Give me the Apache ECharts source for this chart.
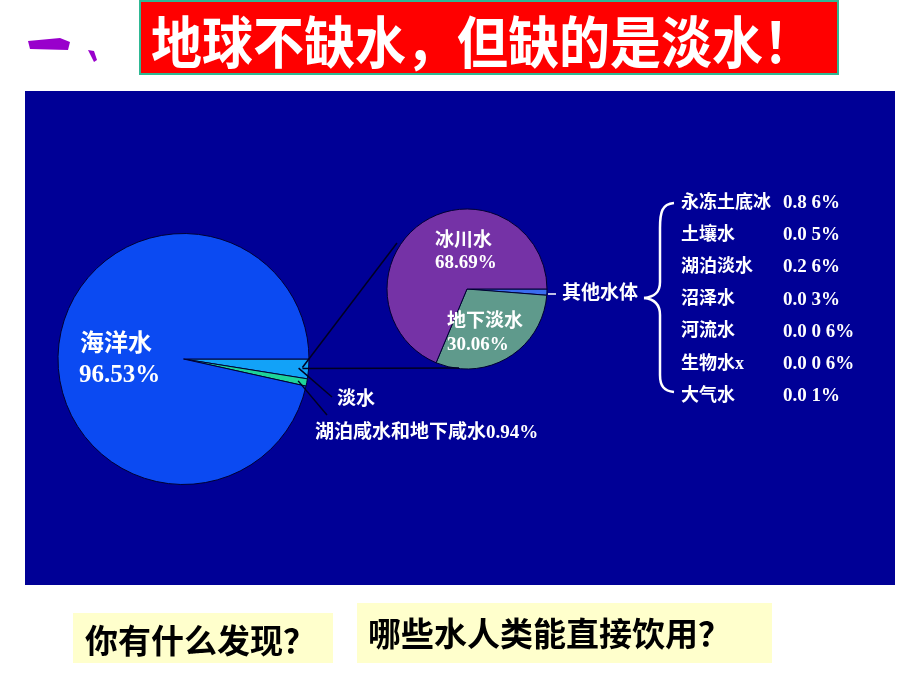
<!DOCTYPE html>
<html><head><meta charset="utf-8">
<script src="https://cdn.jsdelivr.net/npm/echarts@6/dist/echarts.min.js"></script>
<style>html,body{margin:0;padding:0;background:#fff}#c{width:920px;height:690px}</style>
</head><body><div id="c"></div>
<script>
// ---- data ----
const titleText = '地球不缺水，但缺的是淡水！';
const mainCategories = ['淡水', '湖泊咸水和地下咸水', '海洋水'];
const mainValues = [2.53, 0.94, 96.53];
const freshCategories = ['其他水体', '地下淡水', '冰川水'];
const freshValues = [1.25, 30.06, 68.69];
const otherCategories = ['永冻土底冰', '土壤水', '湖泊淡水', '沼泽水', '河流水', '生物水x', '大气水'];
const otherValueLabels = ['0.8 6%', '0.0 5%', '0.2 6%', '0.0 3%', '0.0 0 6%', '0.0 0 6%', '0.0 1%'];
const questions = ['你有什么发现？', '哪些水人类能直接饮用？'];

// ---- layout ----
const bigC = [183.5, 359], bigR = 125.5;
const smallC = [467, 289], smallR = 80;
const serif = '"Liberation Serif","Noto Sans CJK SC",serif';
const cjk = '"Noto Sans CJK SC",sans-serif';

function angleAt(values, idx, frac) {
  const tot = values.reduce((a, b) => a + b, 0);
  let s = 0; for (let i = 0; i < idx; i++) s += values[i];
  return (s + values[idx] * frac) / tot * 2 * Math.PI;
}
function polar(c, r, a) { return [c[0] + r * Math.cos(a), c[1] + r * Math.sin(a)]; }

const chart = echarts.init(document.getElementById('c'), null, {renderer: 'canvas'});

const g = [];
// navy panel
g.push({type: 'rect', z: 0, shape: {x: 25, y: 91, width: 870, height: 494}, style: {fill: '#000096'}});
// title
g.push({type: 'polygon', z: 100, shape: {points: [[28, 41], [60, 38], [70, 42], [68, 50], [30, 49]]}, style: {fill: '#9900CC'}});
g.push({type: 'polygon', z: 100, shape: {points: [[88, 50], [94, 51], [97, 60], [94, 62]]}, style: {fill: '#9900CC'}});
g.push({type: 'rect', z: 100, shape: {x: 140, y: 1, width: 698, height: 73}, style: {fill: '#FF0000', stroke: '#2EB894', lineWidth: 2}});
g.push({type: 'text', z: 101, x: 151, y: 42, scaleY: 1.1, style: {text: titleText, fill: '#FFFFFF', font: 'bold 51px ' + cjk, textAlign: 'left', textVerticalAlign: 'middle'}});

// big pie labels
g.push({type: 'text', z: 100, x: 80, y: 345, style: {text: mainCategories[2], fill: '#FFFFFF', font: 'bold 24px ' + serif, textAlign: 'left', textVerticalAlign: 'middle'}});
g.push({type: 'text', z: 100, x: 79, y: 376, style: {text: mainValues[2].toFixed(2) + '%', fill: '#FFFFFF', font: 'bold 25px ' + serif, textAlign: 'left', textVerticalAlign: 'middle'}});
// leader lines for small slices of big pie
const pFresh = polar(bigC, bigR * 0.92, angleAt(mainValues, 0, 0.5));
const pSalt = polar(bigC, bigR * 0.93, angleAt(mainValues, 1, 0.5));
g.push({type: 'line', z: 100, shape: {x1: pFresh[0], y1: pFresh[1], x2: 332, y2: 397}, style: {stroke: '#000022', lineWidth: 1.5}});
g.push({type: 'line', z: 100, shape: {x1: pSalt[0], y1: pSalt[1], x2: 327, y2: 415}, style: {stroke: '#000022', lineWidth: 1.5}});
g.push({type: 'text', z: 100, x: 337, y: 400, style: {text: mainCategories[0], fill: '#FFFFFF', font: 'bold 19px ' + serif, textAlign: 'left', textVerticalAlign: 'middle'}});
g.push({type: 'text', z: 100, x: 315, y: 433, style: {text: mainCategories[1] + mainValues[1].toFixed(2) + '%', fill: '#FFFFFF', font: 'bold 19px ' + serif, textAlign: 'left', textVerticalAlign: 'middle'}});

// connector lines from fresh wedge to small pie
const apex = polar(bigC, bigR * 0.95, angleAt(mainValues, 0, 0.45));
g.push({type: 'line', z: 100, shape: {x1: apex[0], y1: apex[1], x2: 397, y2: 243}, style: {stroke: '#000022', lineWidth: 1.5}});
g.push({type: 'line', z: 100, shape: {x1: apex[0], y1: apex[1] + 1, x2: smallC[0] - 8, y2: smallC[1] + smallR - 1}, style: {stroke: '#000022', lineWidth: 1.5}});

// small pie labels
g.push({type: 'text', z: 100, x: 435, y: 241, style: {text: freshCategories[2], fill: '#FFFFFF', font: 'bold 19px ' + serif, textAlign: 'left', textVerticalAlign: 'middle'}});
g.push({type: 'text', z: 100, x: 435, y: 263, style: {text: freshValues[2].toFixed(2) + '%', fill: '#FFFFFF', font: 'bold 19px ' + serif, textAlign: 'left', textVerticalAlign: 'middle'}});
g.push({type: 'text', z: 100, x: 447, y: 322, style: {text: freshCategories[1], fill: '#FFFFFF', font: 'bold 19px ' + serif, textAlign: 'left', textVerticalAlign: 'middle'}});
g.push({type: 'text', z: 100, x: 447, y: 345, style: {text: freshValues[1].toFixed(2) + '%', fill: '#FFFFFF', font: 'bold 19px ' + serif, textAlign: 'left', textVerticalAlign: 'middle'}});
g.push({type: 'line', z: 100, shape: {x1: 548, y1: 294, x2: 556, y2: 294}, style: {stroke: '#FFFFFF', lineWidth: 1.5}});
g.push({type: 'text', z: 100, x: 562, y: 294, style: {text: freshCategories[0], fill: '#FFFFFF', font: 'bold 19px ' + serif, textAlign: 'left', textVerticalAlign: 'middle'}});

// brace
const braceStyle = {stroke: '#FFFFFF', lineWidth: 2.5, fill: null};
g.push({type: 'bezierCurve', z: 100, shape: {x1: 674, y1: 203, cpx1: 662, cpy1: 204, cpx2: 660, cpy2: 212, x2: 660, y2: 228}, style: braceStyle});
g.push({type: 'line', z: 100, shape: {x1: 660, y1: 228, x2: 660, y2: 282}, style: braceStyle});
g.push({type: 'bezierCurve', z: 100, shape: {x1: 660, y1: 282, cpx1: 660, cpy1: 293, cpx2: 654, cpy2: 297, x2: 644, y2: 298}, style: braceStyle});
g.push({type: 'bezierCurve', z: 100, shape: {x1: 644, y1: 298, cpx1: 654, cpy1: 299, cpx2: 660, cpy2: 304, x2: 660, y2: 315}, style: braceStyle});
g.push({type: 'line', z: 100, shape: {x1: 660, y1: 315, x2: 660, y2: 375}, style: braceStyle});
g.push({type: 'bezierCurve', z: 100, shape: {x1: 660, y1: 375, cpx1: 660, cpy1: 386, cpx2: 664, cpy2: 391, x2: 674, y2: 392}, style: braceStyle});
// list
const listY0 = 203, listDY = 32.2;
otherCategories.forEach((t, i) => {
  g.push({type: 'text', z: 100, x: 681, y: listY0 + i * listDY, style: {text: t, fill: '#FFFFFF', font: 'bold 18px ' + serif, textAlign: 'left', textVerticalAlign: 'middle'}});
  g.push({type: 'text', z: 100, x: 783, y: listY0 + i * listDY, style: {text: otherValueLabels[i], fill: '#FFFFFF', font: 'bold 19px ' + serif, textAlign: 'left', textVerticalAlign: 'middle'}});
});

// question boxes
g.push({type: 'rect', z: 100, shape: {x: 73, y: 613, width: 260, height: 50}, style: {fill: '#FFFFCC'}});
g.push({type: 'text', z: 101, x: 85, y: 640, style: {text: questions[0], fill: '#000000', font: 'bold 33px ' + cjk, textAlign: 'left', textVerticalAlign: 'middle'}});
g.push({type: 'rect', z: 100, shape: {x: 357, y: 603, width: 415, height: 60}, style: {fill: '#FFFFCC'}});
g.push({type: 'text', z: 101, x: 368, y: 633, style: {text: questions[1], fill: '#000000', font: 'bold 33px ' + cjk, textAlign: 'left', textVerticalAlign: 'middle'}});

const mainColors = ['#12A2F8', '#1ED49A', '#0B4AF2'];
const freshColors = ['#3A6CF0', '#5F9A8C', '#7532A6'];

chart.setOption({
  backgroundColor: '#FFFFFF',
  animation: false,
  series: [
    {
      type: 'pie', z: 5, center: bigC, radius: bigR, startAngle: 0, clockwise: true,
      label: {show: false}, labelLine: {show: false}, silent: true,
      itemStyle: {borderColor: '#000033', borderWidth: 1},
      data: mainCategories.map((n, i) => ({name: n, value: mainValues[i], itemStyle: {color: mainColors[i]}}))
    },
    {
      type: 'pie', z: 5, center: smallC, radius: smallR, startAngle: 0, clockwise: true,
      label: {show: false}, labelLine: {show: false}, silent: true,
      itemStyle: {borderColor: '#000033', borderWidth: 1},
      data: freshCategories.map((n, i) => ({name: n, value: freshValues[i], itemStyle: {color: freshColors[i]}}))
    }
  ],
  graphic: g
});
</script></body></html>
